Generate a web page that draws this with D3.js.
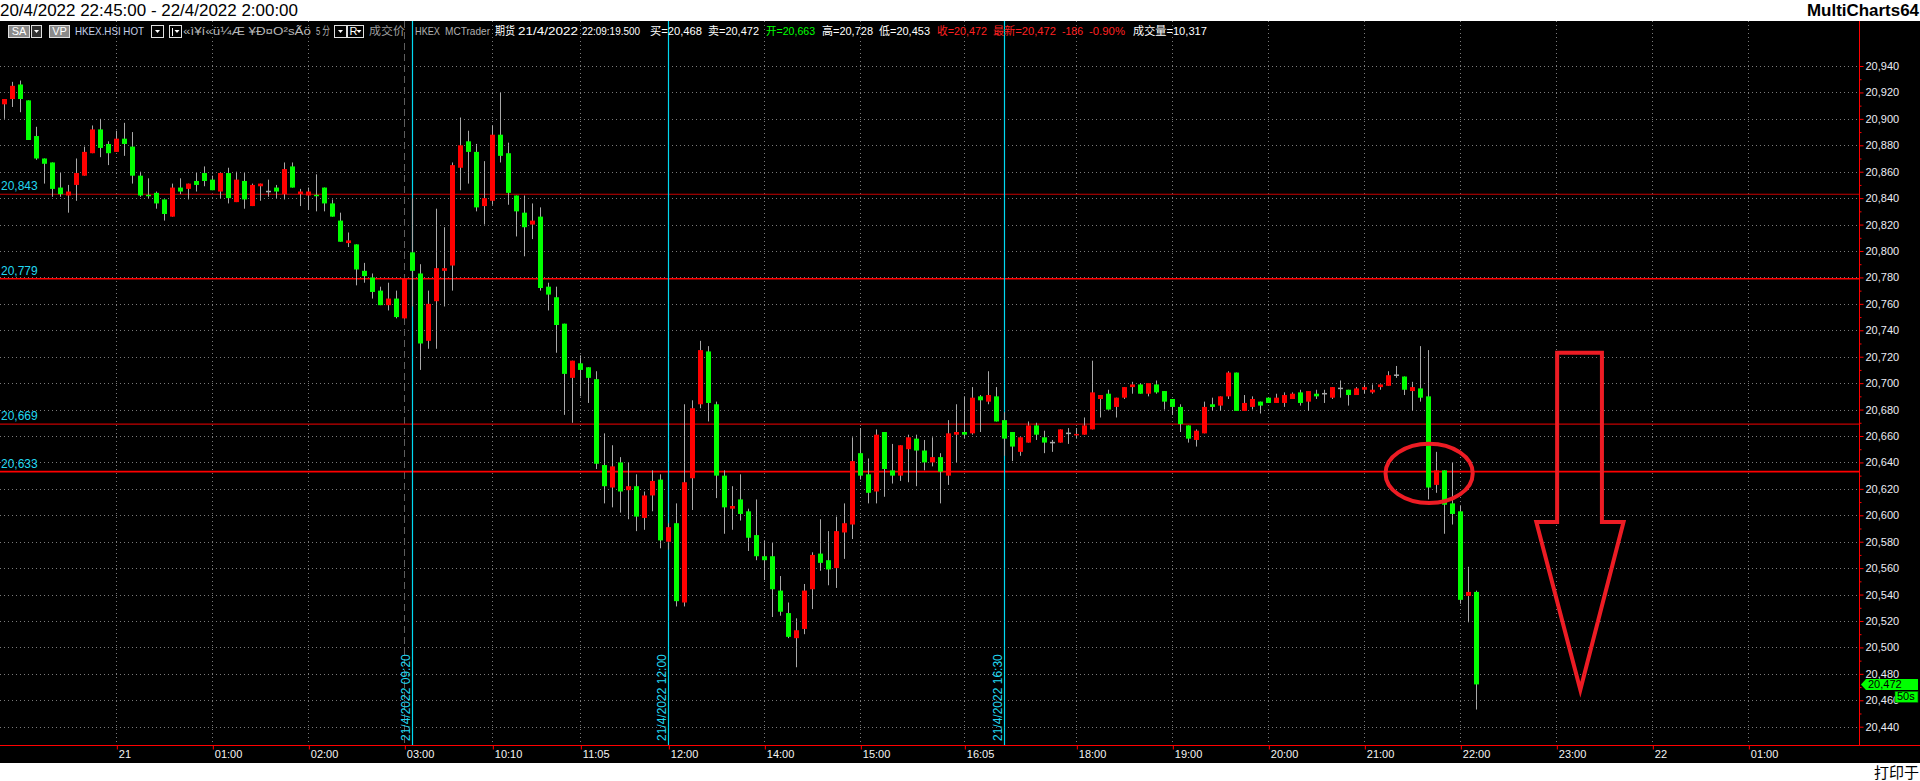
<!DOCTYPE html>
<html><head><meta charset="utf-8">
<script src="https://cdn.jsdelivr.net/npm/d3@7"></script>
<style>
body{margin:0;background:#fff;overflow:hidden}
svg{display:block}
text{font-family:"Liberation Sans",Arial,"Noto Sans CJK SC",sans-serif}
</style>
</head><body>
<svg id="c" width="1920" height="781"></svg>
<script>
// ---------- DATA (5-minute bars, HKEX.HSI HOT) ----------
const opens = [20911,20915,20926,20914,20887,20870,20867,20848,20842,20850,20857,20874,20892,20881,20875,20885,20879,20857,20842,20844,
20839,20826,20848,20847,20853,20859,20854,20845,20859,20837,20853,20834,20849,20845,20848,20843,20864,20843,20842,20842,
20848,20836,20823,20806,20805,20785,20780,20770,20759,20764,20749,20799,20783,20732,20762,20785,20789,20863,20883,20875,
20834,20838,20888,20874,20842,20829,20820,20826,20773,20765,20745,20704,20715,20712,20703,20638,20621,20640,20619,20622,
20598,20615,20627,20580,20594,20534,20628,20684,20724,20684,20630,20605,20612,20603,20585,20569,20569,20543,20526,20507,
20514,20544,20571,20566,20560,20587,20593,20647,20631,20618,20663,20634,20630,20650,20658,20649,20640,20644,20630,20661,
20663,20662,20690,20686,20690,20672,20663,20648,20655,20668,20659,20655,20655,20662,20660,20661,20665,20688,20692,20682,
20689,20697,20699,20692,20699,20694,20688,20682,20668,20657,20662,20684,20683,20690,20708,20679,20682,20686,20689,20685,
20685,20688,20693,20686,20692,20692,20689,20696,20695,20691,20695,20693,20697,20698,20706,20705,20694,20696,20690,20623,
20634,20609,20603,20539,20542];
const highs = [20915,20928,20929,20914,20894,20870,20867,20859,20850,20870,20879,20895,20900,20883,20891,20897,20890,20860,20855,20845,
20839,20851,20855,20851,20859,20864,20857,20859,20863,20860,20859,20851,20851,20854,20850,20867,20867,20847,20848,20858,
20848,20839,20829,20814,20805,20791,20783,20773,20776,20770,20779,20840,20790,20770,20832,20818,20867,20901,20891,20881,
20868,20895,20920,20882,20842,20842,20836,20833,20776,20773,20745,20717,20721,20712,20709,20662,20653,20644,20640,20631,
20618,20634,20631,20594,20609,20684,20687,20732,20728,20686,20634,20622,20631,20605,20612,20581,20579,20554,20534,20522,
20548,20572,20597,20588,20599,20609,20659,20666,20643,20665,20663,20654,20653,20661,20661,20657,20659,20647,20672,20684,
20690,20697,20691,20709,20697,20678,20663,20659,20671,20670,20664,20657,20665,20666,20666,20674,20717,20691,20695,20689,
20697,20701,20700,20700,20702,20694,20688,20684,20668,20665,20686,20689,20690,20709,20708,20691,20690,20686,20689,20692,
20693,20693,20695,20694,20695,20695,20697,20702,20695,20697,20699,20699,20699,20709,20713,20705,20701,20728,20725,20648,
20634,20640,20607,20561,20543];
const lows = [20900,20909,20905,20884,20869,20851,20841,20841,20829,20838,20857,20874,20871,20865,20875,20872,20851,20841,20840,20832,
20823,20826,20843,20839,20845,20849,20846,20840,20836,20837,20832,20834,20838,20841,20840,20839,20848,20834,20831,20830,
20830,20826,20807,20803,20774,20776,20764,20759,20755,20749,20749,20758,20710,20726,20726,20758,20770,20846,20851,20830,
20820,20835,20867,20835,20811,20796,20809,20770,20755,20723,20676,20670,20690,20685,20635,20609,20606,20602,20597,20588,
20589,20603,20575,20574,20531,20531,20604,20681,20671,20613,20586,20589,20596,20573,20566,20551,20523,20524,20507,20485,
20510,20529,20558,20547,20545,20567,20582,20627,20609,20609,20614,20624,20626,20625,20622,20634,20637,20609,20623,20640,
20658,20661,20663,20684,20671,20645,20641,20645,20655,20657,20647,20648,20655,20654,20658,20661,20665,20674,20680,20674,
20688,20692,20692,20690,20692,20680,20676,20663,20655,20652,20662,20679,20679,20688,20679,20679,20680,20677,20685,20685,
20682,20688,20683,20679,20688,20685,20688,20689,20683,20691,20692,20692,20695,20698,20704,20691,20679,20686,20612,20617,
20586,20593,20533,20519,20453];
const closes = [20915,20925,20915,20884,20870,20866,20847,20843,20845,20859,20875,20892,20878,20874,20885,20881,20857,20842,20841,20836,
20828,20848,20845,20851,20850,20853,20846,20859,20840,20854,20839,20850,20851,20845,20845,20862,20848,20845,20845,20841,
20836,20826,20807,20808,20786,20781,20769,20759,20764,20750,20779,20785,20730,20760,20787,20787,20865,20880,20875,20833,
20840,20888,20872,20844,20830,20818,20823,20772,20767,20744,20707,20717,20710,20704,20639,20622,20637,20618,20622,20599,
20615,20626,20581,20591,20535,20625,20681,20725,20685,20630,20606,20607,20601,20583,20569,20566,20544,20527,20508,20513,
20543,20570,20564,20559,20588,20594,20641,20630,20617,20661,20635,20630,20653,20659,20649,20640,20644,20633,20662,20663,
20661,20689,20687,20691,20671,20658,20652,20659,20668,20661,20655,20655,20665,20662,20661,20668,20693,20691,20680,20689,
20697,20699,20692,20700,20693,20686,20682,20669,20658,20664,20682,20682,20690,20708,20679,20685,20688,20683,20685,20689,
20691,20692,20685,20694,20690,20692,20697,20696,20691,20696,20697,20695,20699,20706,20706,20695,20697,20689,20621,20634,
20608,20601,20536,20542,20472];

const xTickIndex  = [14,26,38,50,61,72,83,95,107,120,134,146,158,170,182,194,206,218];
const xTickLabels = ["21","01:00","02:00","03:00","10:10","11:05","12:00","14:00","15:00","16:05","18:00","19:00","20:00","21:00","22:00","23:00","22","01:00"];
const yTickValues = [20440,20460,20480,20500,20520,20540,20560,20580,20600,20620,20640,20660,20680,20700,20720,20740,20760,20780,20800,20820,20840,20860,20880,20900,20920,20940];
const levelValues = [20843,20779,20669,20633];
const levelStrong = [false,true,false,true];
const sessionIndex = [51,83,125];
const sessionLabels = ["21/4/2022 09:20","21/4/2022 12:00","21/4/2022 16:30"];
const sessionBreakIndex = [50];
const lastPrice = 20472;
const lastLabel = "20,472";
const countdown = "50s";
// annotation (hand-drawn red ellipse and arrow) in bar-index / price units
const ellipseAnno = {i:178.1, v:20631.7, ri:5.45, rv:22.4};
const arrowAnno = [[194.1,20723],[199.7,20723],[199.7,20595],[202.4,20595],[197.0,20468],[191.5,20595],[194.1,20595]];

// ---------- LAYOUT ----------
const W=1920, H=781;
const plotTop=21, plotBottom=763, axisX=1859.5, axisY=745.5;
const svg=d3.select('#c');
const x=d3.scaleLinear().domain([0,231]).range([4.33,4.33+8*231]);
const y=d3.scaleLinear().domain([20440,20940]).range([726.7,66]);
const R = v=>Math.round(v)+0.5;

// title band
svg.append('text').attr('x',0).attr('y',16).attr('font-size',17).attr('fill','#000')
  .attr('textLength',298).attr('lengthAdjust','spacingAndGlyphs')
  .text('20/4/2022 22:45:00 - 22/4/2022 2:00:00');
svg.append('text').attr('x',1919).attr('y',16).attr('font-size',17).attr('font-weight','bold')
  .attr('text-anchor','end').attr('fill','#000')
  .attr('textLength',112).attr('lengthAdjust','spacingAndGlyphs').text('MultiCharts64');

// black chart background
svg.append('rect').attr('x',0).attr('y',plotTop).attr('width',W).attr('height',plotBottom-plotTop).attr('fill','#000');

// grid
const grid=svg.append('g');
grid.selectAll('line.h').data(yTickValues).join('line').attr('class','h')
  .attr('x1',0).attr('x2',axisX-1).attr('y1',d=>R(y(d))).attr('y2',d=>R(y(d)))
  .attr('stroke','#7a7a7a').attr('stroke-dasharray','1,3');
grid.selectAll('line.v').data(xTickIndex.filter(i=>!sessionBreakIndex.includes(i))).join('line').attr('class','v')
  .attr('x1',d=>R(x(d))).attr('x2',d=>R(x(d))).attr('y1',plotTop).attr('y2',axisY-1)
  .attr('stroke','#7a7a7a').attr('stroke-dasharray','1,3');
grid.selectAll('line.b').data(sessionBreakIndex).join('line').attr('class','b')
  .attr('x1',d=>R(x(d))).attr('x2',d=>R(x(d))).attr('y1',plotTop).attr('y2',axisY-1)
  .attr('stroke','#5e5e5e').attr('stroke-dasharray','7,4');

// level lines
svg.append('g').selectAll('line').data(levelValues).join('line')
  .attr('x1',0).attr('x2',axisX).attr('y1',d=>y(d)).attr('y2',d=>y(d))
  .attr('stroke',(d,i)=>levelStrong[i]?'#ff0000':'#c40000')
  .attr('stroke-width',(d,i)=>levelStrong[i]?1.6:1.1);
svg.append('g').selectAll('text').data(levelValues).join('text')
  .attr('x',1).attr('y',d=>y(d)-4).attr('font-size',12).attr('fill','#22d8f0')
  .text(d=>d3.format(',')(d));

// session lines
svg.append('g').selectAll('line').data(sessionIndex).join('line')
  .attr('x1',d=>R(x(d))).attr('x2',d=>R(x(d))).attr('y1',plotTop).attr('y2',axisY)
  .attr('stroke','#00d8f0').attr('stroke-width',1.2);
svg.append('g').selectAll('text').data(sessionIndex).join('text')
  .attr('transform',d=>`translate(${R(x(d))-3},741) rotate(-90)`)
  .attr('font-size',12).attr('fill','#22d8f0')
  .text((d,i)=>sessionLabels[i]);

// candles
const bars=d3.range(closes.length);
const cg=svg.append('g');
cg.selectAll('line').data(bars).join('line')
  .attr('x1',i=>R(x(i))).attr('x2',i=>R(x(i)))
  .attr('y1',i=>y(highs[i])).attr('y2',i=>y(lows[i]))
  .attr('stroke','#a8a8a8').attr('stroke-width',1);
cg.selectAll('rect').data(bars).join('rect')
  .attr('x',i=>Math.round(x(i))-2)
  .attr('width',5)
  .attr('y',i=>{const t=y(Math.max(opens[i],closes[i]));const h=Math.abs(y(opens[i])-y(closes[i]));return h<1.5?t-0.75:t;})
  .attr('height',i=>Math.max(1.5,Math.abs(y(opens[i])-y(closes[i]))))
  .attr('fill',i=>closes[i]>opens[i]?'#ff0000':(closes[i]<opens[i]?'#00ff00':'#a8a8a8'));

// axes
svg.append('line').attr('x1',axisX).attr('x2',axisX).attr('y1',plotTop).attr('y2',axisY).attr('stroke','#ff0000');
svg.append('line').attr('x1',0).attr('x2',W).attr('y1',axisY).attr('y2',axisY).attr('stroke','#ff0000');

const yAxis=svg.append('g').attr('transform',`translate(${axisX},0)`)
  .call(d3.axisRight(y).tickValues(yTickValues).tickSize(4).tickPadding(2).tickFormat(d3.format(',')));
yAxis.select('.domain').remove();
yAxis.selectAll('line').attr('stroke','#ff0000');
yAxis.selectAll('text').attr('fill','#ececf4').attr('font-size',11).attr('font-family','"Liberation Sans",Arial');
const yMinor=svg.append('g').attr('transform',`translate(${axisX},0)`)
  .call(d3.axisRight(y).tickValues(yTickValues.map(v=>v+10).filter(v=>v<20950)).tickSize(2).tickFormat(''));
yMinor.select('.domain').remove();
yMinor.selectAll('line').attr('stroke','#ff0000');

const xAxis=svg.append('g').attr('transform',`translate(0,${axisY})`)
  .call(d3.axisBottom(x).tickValues(xTickIndex).tickSize(4).tickPadding(1).tickFormat((d,i)=>xTickLabels[i]));
xAxis.select('.domain').remove();
xAxis.selectAll('line').attr('stroke','#ff0000').attr('transform','translate(0.5,0)');
xAxis.selectAll('text').attr('fill','#f4f4f4').attr('font-size',11).attr('text-anchor','start').attr('x',2)
  .attr('font-family','"Liberation Sans",Arial');

// last price tag
const ly=y(lastPrice);
svg.append('path').attr('d',`M1861,${ly} L1866,${ly-5.5} L1918,${ly-5.5} L1918,${ly+5.5} L1866,${ly+5.5} Z`).attr('fill','#00ff00');
svg.append('text').attr('x',1868).attr('y',ly+4).attr('font-size',11).attr('fill','#000').text(lastLabel);
svg.append('rect').attr('x',1895).attr('y',ly+7).attr('width',23).attr('height',11).attr('fill','#00ff00').attr('stroke','#006000').attr('stroke-width',0.6);
svg.append('text').attr('x',1897).attr('y',ly+16).attr('font-size',11).attr('fill','#000').text(countdown);

// annotations
svg.append('ellipse').attr('cx',x(ellipseAnno.i)).attr('cy',y(ellipseAnno.v))
  .attr('rx',x(ellipseAnno.ri)-x(0)).attr('ry',y(20440)-y(20440+ellipseAnno.rv))
  .attr('fill','none').attr('stroke','#ed1c24').attr('stroke-width',4);
svg.append('path').attr('d',d3.line().x(d=>x(d[0])).y(d=>y(d[1]))(arrowAnno)+'Z')
  .attr('fill','none').attr('stroke','#ed1c24').attr('stroke-width',4).attr('stroke-linejoin','miter');

// header row
const hy=35, hf=11.5;
const hdr=svg.append('g').attr('font-size',hf);
function box(x0,w,fill,label){
  hdr.append('rect').attr('x',x0+0.5).attr('y',25.5).attr('width',w).attr('height',12).attr('fill',fill).attr('stroke','#e0e0e0').attr('stroke-width',1);
  if(label) hdr.append('text').attr('x',x0+w/2+0.5).attr('y',hy).attr('text-anchor','middle').attr('fill','#fff').attr('font-size',11).text(label);
}
function tri(cx){hdr.append('path').attr('d',`M${cx-2.5},30 L${cx+2.5},30 L${cx},33 Z`).attr('fill','#fff');}
function htext(x0,w,txt,col){
  hdr.append('text').attr('x',x0).attr('y',hy).attr('fill',col).attr('textLength',w).attr('lengthAdjust','spacingAndGlyphs').text(txt);
}
box(8,21,'#8a8a8a','SA'); box(31,10,'#303030',null); tri(36.5);
box(49,20,'#8a8a8a','VP');
htext(75,69,'HKEX.HSI HOT','#c4cfe8');
box(151,12,'#000',null); tri(157.5);
box(169,12,'#000',null); hdr.append('line').attr('x1',172.5).attr('x2',172.5).attr('y1',28).attr('y2',36).attr('stroke','#fff'); tri(177);
htext(183,128,'«ì¥í«ü¼Æ ¥Ð¤O²sÃö','#b8b8b8');
htext(316,14,'5 分','#b8b8b8');
box(334,12,'#000',null); tri(340.5);
box(347,16,'#000',null); hdr.append('text').attr('x',349.5).attr('y',hy).attr('fill','#fff').attr('font-size',11).text('R'); tri(359);
htext(369,36,'成交价','#9c9c9c');
const hItems=[[415,25,'HKEX','#b0b0b0'],[445,45,'MCTrader','#b0b0b0'],[495,20,'期货','#ffffff'],[518,60,'21/4/2022','#ffffff'],[582,58,'22:09:19.500','#ffffff'],
 [650,52,'买=20,468','#ffffff'],[708,51,'卖=20,472','#ffffff'],[766,49,'开=20,663','#00ff00'],[822,51,'高=20,728','#ffffff'],[879,51,'低=20,453','#ffffff'],
 [937,50,'收=20,472','#ff2020'],[993,63,'最新=20,472','#ff2020'],[1062,21,'-186','#ff2020'],[1089,36,'-0.90%','#ff2020'],[1133,74,'成交量=10,317','#ffffff']];
hItems.forEach(d=>htext(d[0],d[1],d[2],d[3]));

// footer
svg.append('text').attr('x',1919).attr('y',778).attr('text-anchor','end').attr('font-size',15)
  .attr('font-family','"Noto Sans CJK SC",sans-serif').attr('fill','#000').text('打印于');
</script>
</body></html>
